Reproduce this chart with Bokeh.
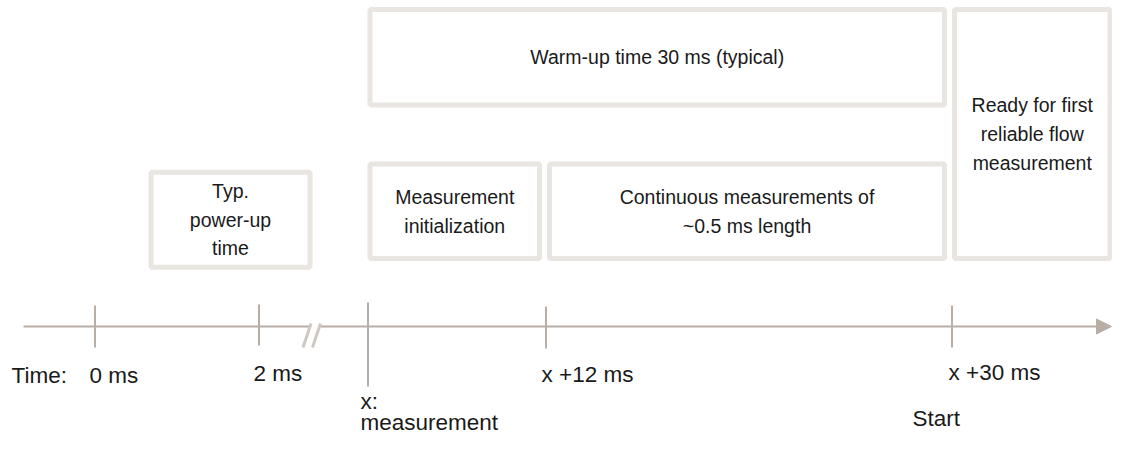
from bokeh.plotting import figure
from bokeh.models import Range1d, ColumnDataSource, Arrow, NormalHead
from bokeh.core.properties import value
from bokeh.embed import file_html
from bokeh.resources import INLINE

# ---- data (diagram coordinates, page-pixel-like units) ----
box_labels = [
    "Warm-up time 30 ms (typical)",
    "Measurement\ninitialization",
    "Continuous measurements of\n~0.5 ms length",
    "Ready for first\nreliable flow\nmeasurement",
    "Typ.\npower-up\ntime",
]
box_left = [369.5, 369.5, 549.0, 954.0, 150.5]
box_right = [944.0, 539.0, 944.0, 1109.5, 309.5]
box_top = [9.0, 163.5, 163.5, 9.0, 171.8]
box_bottom = [104.5, 258.0, 258.0, 258.0, 266.8]

tick_x = [94.5, 258.5, 367.5, 545.5, 951.5]
tick_top = [305, 304, 302, 306, 305]
tick_bottom = [347, 345, 386, 348, 347]

axis_x0 = [23, 319]
axis_x1 = [309, 1098]
axis_y = 326
arrow_tip = 1111

slash_x0 = [302.5, 312.0]
slash_x1 = [310.5, 320.0]
slash_y0 = [347, 347]
slash_y1 = [323, 323]

label_text = ["Time:", "0 ms", "2 ms", "x +12 ms", "x +30 ms", "x:", "measurement", "Start"]
label_x = [11, 89, 253, 541, 948, 360, 360, 912]
label_y = [375, 375, 373, 374, 372, 401, 422, 418]

BOX_LINE = "#e9e5e1"
AXIS = "#b8aea6"
SLASH = "#cfc8c2"
TXT = "#1a1a1a"

p = figure(width=1112, height=436, x_range=Range1d(0, 1112), y_range=Range1d(436, 0),
           output_backend="svg", toolbar_location=None, min_border=0)
p.axis.visible = False
p.grid.visible = False
p.outline_line_color = None
p.background_fill_color = "white"
p.border_fill_color = "white"

bsrc = ColumnDataSource(dict(
    left=box_left, right=box_right, top=box_top, bottom=box_bottom, label=box_labels,
    cx=[(l + r) / 2 for l, r in zip(box_left, box_right)],
    cy=[(t + b) / 2 for t, b in zip(box_top, box_bottom)],
))
p.quad(left="left", right="right", top="top", bottom="bottom", source=bsrc,
       fill_color="white", line_color=BOX_LINE, line_width=5)
p.text(x="cx", y="cy", text="label", source=bsrc, text_align="center", text_baseline="middle",
       text_font=value("Liberation Sans"), text_font_size="19.5px", text_color=TXT,
       text_line_height=1.3)

# time axis
p.segment(x0=axis_x0, y0=[axis_y] * len(axis_x0), x1=axis_x1, y1=[axis_y] * len(axis_x1),
          line_color=AXIS, line_width=2)
p.add_layout(Arrow(end=NormalHead(size=15, fill_color=AXIS, line_color=AXIS, line_width=1),
                   x_start=axis_x1[-1] - 1, y_start=axis_y, x_end=arrow_tip, y_end=axis_y,
                   line_color=AXIS, line_width=2))
p.segment(x0=tick_x, y0=tick_top, x1=tick_x, y1=tick_bottom, line_color=AXIS, line_width=2)
p.segment(x0=slash_x0, y0=slash_y0, x1=slash_x1, y1=slash_y1, line_color=SLASH, line_width=3)

p.text(x=label_x, y=label_y, text=label_text, text_align="left", text_baseline="alphabetic",
       text_font=value("Liberation Sans"), text_font_size="22.5px", text_color=TXT)

open("out.html", "w").write(file_html(p, INLINE))
